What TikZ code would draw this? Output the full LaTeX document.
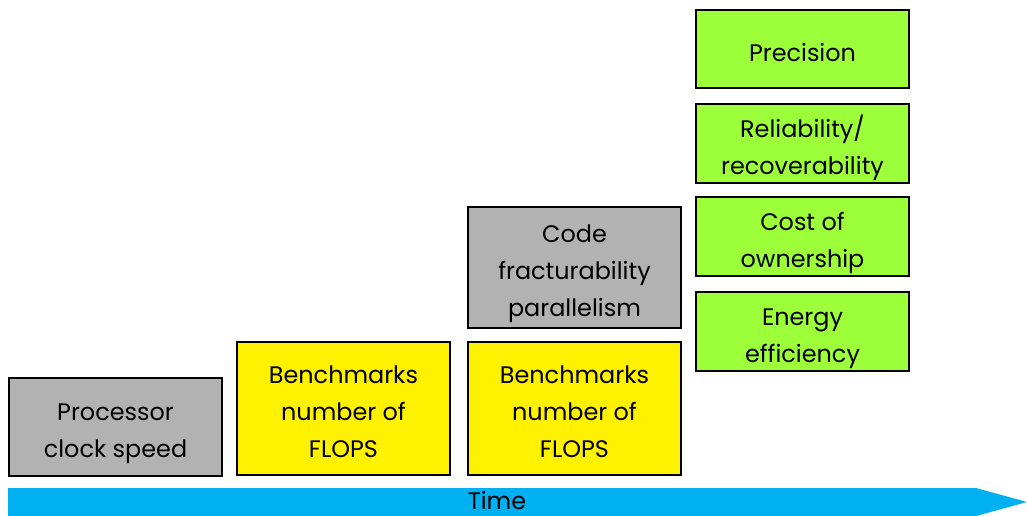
\documentclass[tikz,border=0pt]{standalone}
\usepackage{fontspec}
\setmainfont{Poppins}
\usepackage{xcolor}

\definecolor{boxgray}{HTML}{B2B2B2}
\definecolor{boxyellow}{HTML}{FFF200}
\definecolor{boxgreen}{HTML}{9CFF3A}
\definecolor{timeblue}{HTML}{00B0F0}

% struts so that every box sets its lines the same way
\newcommand{\boxtop}{\rule{0pt}{22pt}}
\newcommand{\boxbot}{\rule[-4.3pt]{0pt}{4.3pt}}

\tikzset{
  metric/.style={draw=black,line width=0.8pt,align=center,inner sep=0pt,
    minimum width=5.325cm,font=\fontsize{17}{26.3}\selectfont},
}

\begin{document}
\begin{tikzpicture}[x=0.025cm,y=-0.025cm]
\useasboundingbox (0,0) rectangle (1027,515);

% time arrow
\fill[timeblue] (8,488) -- (976,488) -- (1027,502) -- (976,516) -- (8,516) -- cycle;
\node[anchor=base,inner sep=0pt,font=\fontsize{17}{22}\selectfont] (time) at (497,509) {Time};

% first step
\node[metric,fill=boxgray,minimum height=2.45cm] (proc) at (115.5,427) {\boxtop Processor\\clock speed\boxbot};

% second step
\node[metric,fill=boxyellow,minimum height=3.325cm] (bench1) at (343.5,408.5) {\boxtop Benchmarks\\number of\\FLOPS\boxbot};

% third step
\node[metric,fill=boxyellow,minimum height=3.325cm] (bench2) at (574.5,408.5) {\boxtop Benchmarks\\number of\\FLOPS\boxbot};
\node[metric,fill=boxgray,minimum height=3.025cm] (code) at (574.5,267.5) {\boxtop Code\\fracturability\\parallelism\boxbot};

% fourth step
\node[metric,fill=boxgreen,minimum height=1.975cm] (energy) at (802.5,331.5) {\boxtop Energy\\efficiency\boxbot};
\node[metric,fill=boxgreen,minimum height=1.975cm] (cost) at (802.5,236.5) {\boxtop Cost of\\ownership\boxbot};
\node[metric,fill=boxgreen,minimum height=1.975cm] (reliab) at (802.5,143.5) {\boxtop Reliability/\\recoverability\boxbot};
\node[metric,fill=boxgreen,minimum height=1.95cm] (prec) at (802.5,49) {\boxtop Precision\boxbot};
\end{tikzpicture}
\end{document}
